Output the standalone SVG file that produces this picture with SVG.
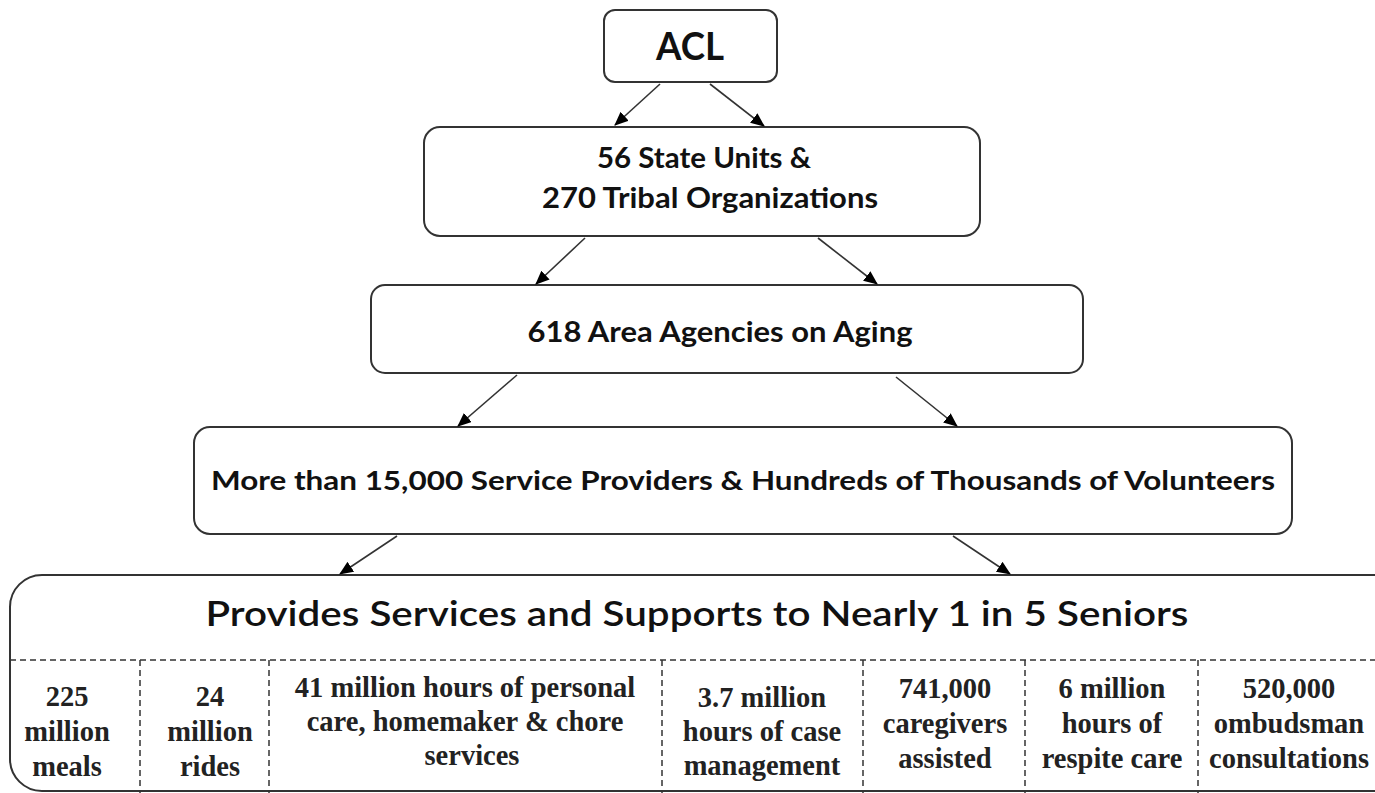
<svg xmlns="http://www.w3.org/2000/svg" width="1375" height="793" viewBox="0 0 1375 793">
<defs>
<marker id="ah" markerWidth="14" markerHeight="12" refX="13" refY="6" orient="auto" markerUnits="userSpaceOnUse">
<path d="M0,0 L14,6 L0,12 Z" fill="#000"/>
</marker>
<style>
.box{fill:#fff;stroke:#333;stroke-width:2}
.hd{font-family:Lato,"Open Sans",sans-serif;font-weight:bold;fill:#111;text-anchor:middle}
.cell{font-family:'Liberation Serif',serif;font-weight:bold;font-size:28.5px;fill:#222;text-anchor:middle}
.dash{stroke:#333;stroke-width:1.5;stroke-dasharray:6 4;fill:none}
.conn{stroke:#333;stroke-width:1.6;fill:none;marker-end:url(#ah)}
</style>
</defs>
<rect width="1375" height="793" fill="#fff"/>
<g id="acl">
<rect class="box" x="604" y="10" width="173" height="72" rx="11"/>
<text class="hd" x="690" y="60" font-size="38" textLength="68" lengthAdjust="spacingAndGlyphs">ACL</text>
</g>
<g id="state-units">
<rect class="box" x="424" y="127" width="556" height="109" rx="16"/>
<text class="hd" x="704" y="168" font-size="29" textLength="214" lengthAdjust="spacingAndGlyphs">56 State Units &amp;</text>
<text class="hd" x="710" y="208" font-size="29" textLength="336" lengthAdjust="spacingAndGlyphs">270 Tribal Organizations</text>
</g>
<g id="aaa">
<rect class="box" x="371" y="285" width="712" height="88" rx="14"/>
<text class="hd" x="720" y="342" font-size="29" textLength="385" lengthAdjust="spacingAndGlyphs">618 Area Agencies on Aging</text>
</g>
<g id="providers">
<rect class="box" x="194" y="427" width="1098" height="107" rx="16"/>
<text class="hd" x="743" y="490" font-size="27" textLength="1064" lengthAdjust="spacingAndGlyphs">More than 15,000 Service Providers &amp; Hundreds of Thousands of Volunteers</text>
</g>
<g id="services">
<rect class="box" x="10" y="575" width="1400" height="216" rx="32"/>
<text class="hd" x="697" y="626" font-size="35" textLength="983" lengthAdjust="spacingAndGlyphs" style="font-weight:600">Provides Services and Supports to Nearly 1 in 5 Seniors</text>
<line class="dash" x1="10" y1="660" x2="1375" y2="660"/>
<line class="dash" x1="140" y1="660" x2="140" y2="793"/>
<line class="dash" x1="269" y1="660" x2="269" y2="793"/>
<line class="dash" x1="662" y1="660" x2="662" y2="793"/>
<line class="dash" x1="863" y1="660" x2="863" y2="793"/>
<line class="dash" x1="1025" y1="660" x2="1025" y2="793"/>
<line class="dash" x1="1198" y1="660" x2="1198" y2="793"/>
</g>
<g id="cell-meals">
<text class="cell" x="67" y="706">225</text>
<text class="cell" x="67" y="741">million</text>
<text class="cell" x="67" y="776">meals</text>
</g>
<g id="cell-rides">
<text class="cell" x="210" y="706">24</text>
<text class="cell" x="210" y="741">million</text>
<text class="cell" x="210" y="776">rides</text>
</g>
<g id="cell-personal">
<text class="cell" x="465" y="697">41 million hours of personal</text>
<text class="cell" x="465" y="731">care, homemaker &amp; chore</text>
<text class="cell" x="472" y="765">services</text>
</g>
<g id="cell-case">
<text class="cell" x="762" y="707">3.7 million</text>
<text class="cell" x="762" y="741">hours of case</text>
<text class="cell" x="762" y="775">management</text>
</g>
<g id="cell-caregivers">
<text class="cell" x="945" y="698">741,000</text>
<text class="cell" x="945" y="733">caregivers</text>
<text class="cell" x="945" y="768">assisted</text>
</g>
<g id="cell-respite">
<text class="cell" x="1112" y="698">6 million</text>
<text class="cell" x="1112" y="733">hours of</text>
<text class="cell" x="1112" y="768">respite care</text>
</g>
<g id="cell-ombudsman">
<text class="cell" x="1289" y="698">520,000</text>
<text class="cell" x="1289" y="733">ombudsman</text>
<text class="cell" x="1289" y="768">consultations</text>
</g>
<g id="connectors">
<line class="conn" x1="660" y1="84" x2="615" y2="125"/>
<line class="conn" x1="710" y1="84" x2="764" y2="126"/>
<line class="conn" x1="585" y1="238" x2="536" y2="284"/>
<line class="conn" x1="818" y1="238" x2="877" y2="284"/>
<line class="conn" x1="517" y1="375" x2="458" y2="426"/>
<line class="conn" x1="896" y1="377" x2="957" y2="426"/>
<line class="conn" x1="397" y1="536" x2="340" y2="574"/>
<line class="conn" x1="953" y1="536" x2="1010" y2="574"/>
</g>
</svg>
